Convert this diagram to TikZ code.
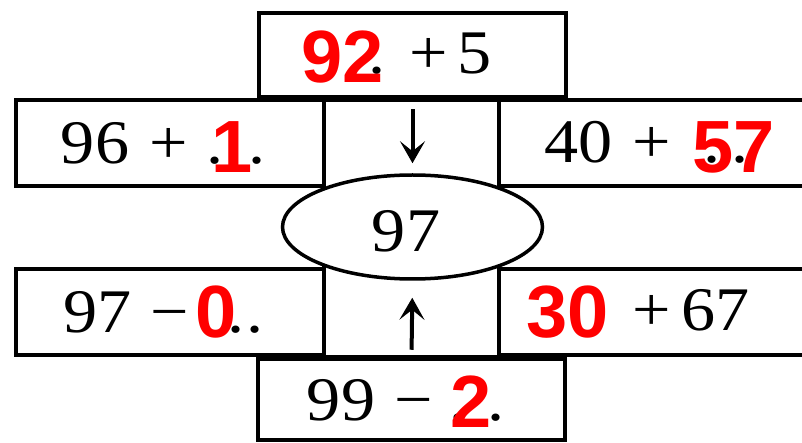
\documentclass[tikz,border=0pt]{standalone}
\usepackage{fontspec}
\usetikzlibrary{arrows.meta,shapes.geometric}
\newfontfamily\blkfont[FakeStretch=1.1]{Liberation Serif}
\newfontfamily\redfont{Liberation Sans}
\begin{document}
\begin{tikzpicture}[x=1pt,y=-1pt,
  box/.style={draw=black, line width=4.5pt, rectangle, inner sep=0pt},
  oval/.style={draw=black, line width=3.5pt, fill=white, ellipse, inner sep=0pt,
               minimum width=260pt, minimum height=104pt},
  bt/.style={font=\blkfont\fontsize{62}{62}\selectfont, inner sep=0pt, anchor=base},
  rt/.style={font=\redfont\bfseries\fontsize{74}{74}\selectfont, text=red, inner sep=0pt, anchor=base},
  arr/.style={line width=4pt, -{Stealth[length=22pt, width=25pt, inset=10pt]}}]
\useasboundingbox (0,0) rectangle (802,443);
\clip (0,0) rectangle (802,443);
% boxes
\node[box, minimum width=307pt, minimum height=84pt] (top) at (412.5,55) {};
\node[box, minimum width=308pt, minimum height=86pt] (l2) at (170,143) {};
\node[box, minimum width=313pt, minimum height=86pt] (r2) at (655.5,143) {};
\node[box, minimum width=175pt, minimum height=257pt] (mid) at (411.5,228.5) {};
\node[box, minimum width=308pt, minimum height=86pt] (l4) at (170,312) {};
\node[box, minimum width=313pt, minimum height=86pt] (r4) at (655.5,312) {};
\node[box, minimum width=307pt, minimum height=81pt] (bot) at (411.5,399.5) {};
\node[oval] (ell) at (412.5,227) {};
% arrows
\draw[arr, shorten <=10pt, shorten >=10pt] (top.south) -- (ell.north);
\draw[arr, shorten <=7pt, shorten >=17pt] (bot.north) -- (ell.south);
% black text
\node[bt] (t1) at (377,74) {.};
\node[bt] (t2) at (429,74) {+};
\node[bt] (t3) at (474.5,74) {5};
\node[bt] (a1) at (95,164) {96};
\node[bt] (a2) at (169,164) {+};
\node[bt] (a3) at (215,164) {.};
\node[bt] (a4) at (257,164) {.};
\node[bt] (b1) at (578.5,163) {40};
\node[bt] (b2) at (651.5,163) {+};
\node[bt] (b3) at (712,163) {.};
\node[bt] (b4) at (740,163) {.};
\node[bt] (e1) at (406,252) {97};
\node[bt] (c1) at (97.5,332) {97};
\node[bt] (c2) at (170,332) {−};
\node[bt] (c3) at (236,332) {.};
\node[bt] (c4) at (255,332) {.};
\node[bt] (d1) at (651.5,330) {+};
\node[bt] (d2) at (715.5,330) {67};
\node[bt] (f1) at (341,420) {99};
\node[bt] (f2) at (413.5,420) {−};
\node[bt] (f3) at (458,420) {.};
\node[bt] (f4) at (496,420) {.};
% red answers
\node[rt] (r1) at (343,83) {92};
\node[rt] (r2a) at (232,173) {1};
\node[rt] (r3) at (733.5,173) {57};
\node[rt] (r4a) at (216.5,337) {0};
\node[rt] (r5) at (567.5,337) {30};
\node[rt] (r6) at (471.5,427) {2};
\end{tikzpicture}
\end{document}
